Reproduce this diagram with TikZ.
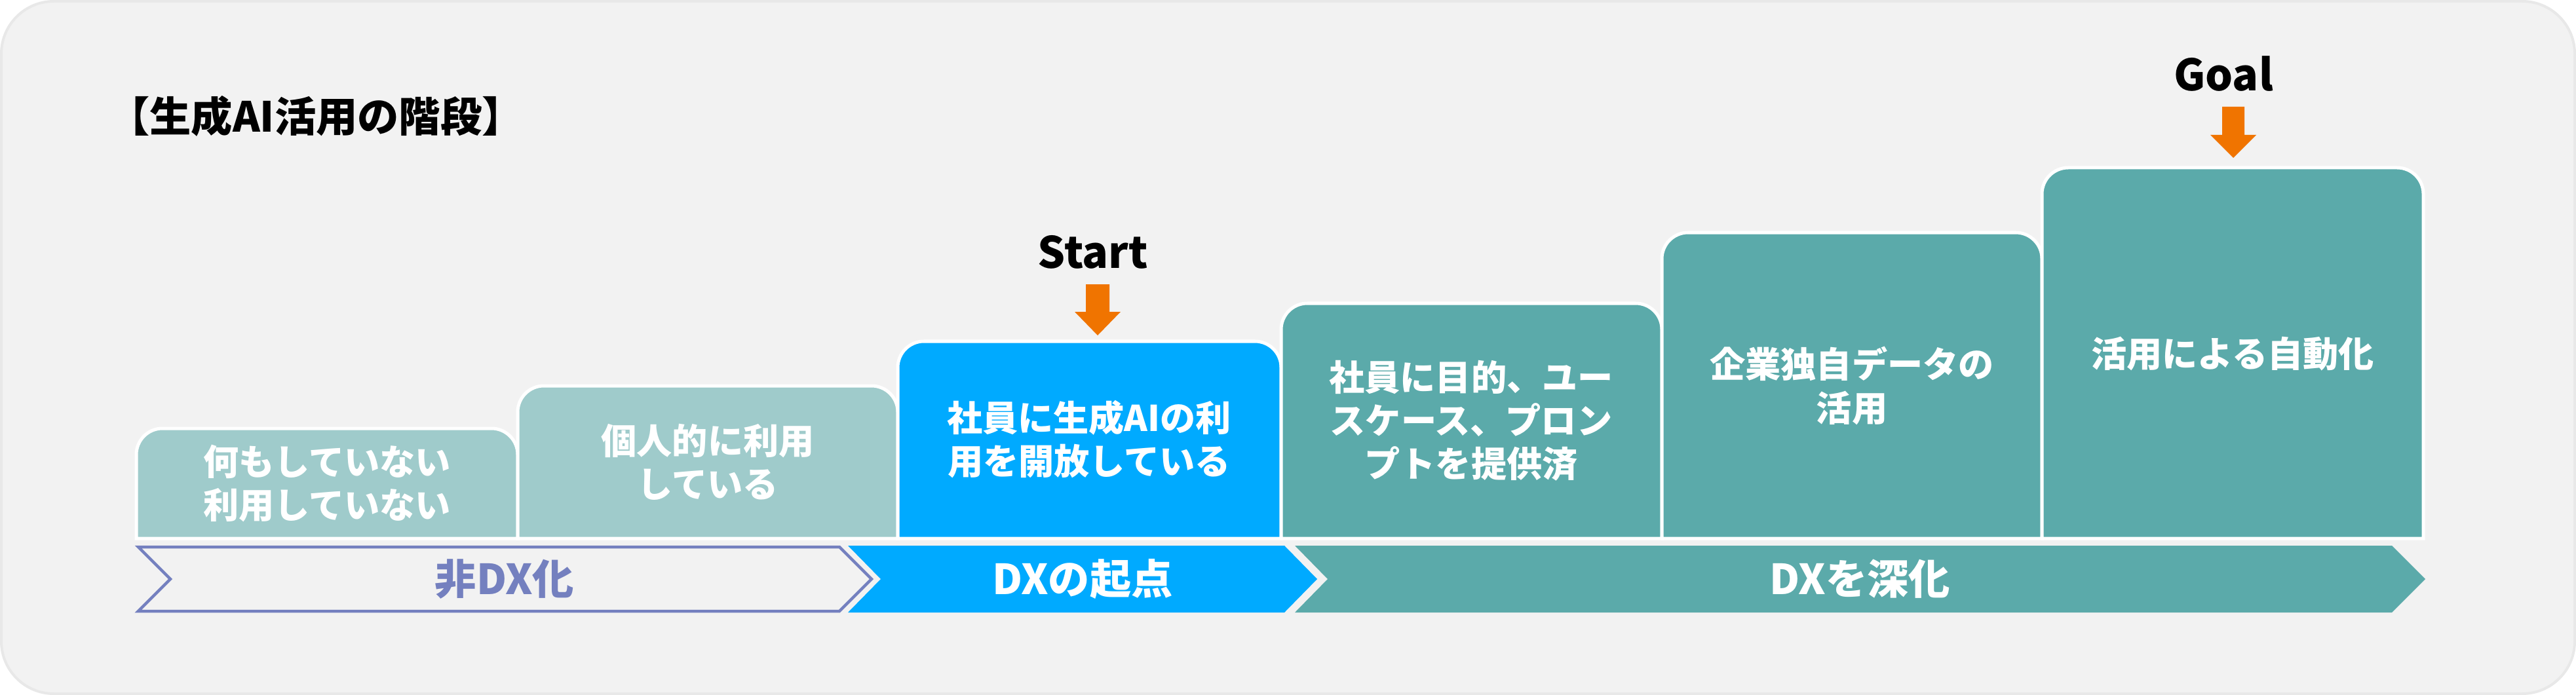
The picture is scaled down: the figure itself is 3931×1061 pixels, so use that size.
\documentclass[tikz,border=0pt]{standalone}
\usepackage{fontspec}
\setmainfont{Noto Sans CJK JP}
\usepackage{tikz}
\usetikzlibrary{positioning, calc}

\definecolor{panelbg}{HTML}{F2F2F2}
\definecolor{panelrim}{HTML}{E8E8E8}
\definecolor{lightteal}{HTML}{9FCBCB}
\definecolor{dxblue}{HTML}{00AAFF}
\definecolor{dxteal}{HTML}{5BAAAA}
\definecolor{nondx}{HTML}{7480BF}
\definecolor{markorange}{HTML}{F07400}

\tikzset{
  stepbox/.style={draw=white, line width=0.05cm},
  steptext/.style={text=white, align=center, font=\bfseries\fontsize{15.4}{18.8}\selectfont},
  phasetext/.style={font=\bfseries\fontsize{18}{21}\selectfont},
  marktext/.style={font=\bfseries\fontsize{18.8}{22}\selectfont},
  marker/.style={fill=markorange},
}

\begin{document}
\begin{tikzpicture}[x=0.01cm, y=-0.01cm]

    % --- Panel ---
    \useasboundingbox (0,0) rectangle (3931,1061);
    \draw[draw=panelrim, fill=panelbg, line width=0.04cm, rounded corners=0.8cm] (2,2) rectangle (3929,1059);

    % title
    \node[font=\bfseries\fontsize{18}{21}\selectfont] (title) at (482,177) {【生成AI活用の階段】};

    % --- Steps ---
    % step 1
    \filldraw[stepbox, fill=lightteal] (208,822) [rounded corners=0.4cm] -- (208,654) -- (790,654) [sharp corners] -- (790,822) -- cycle;
    \node[steptext] (s1) at (499,738) {何もしていない\\利用していない};

    % step 2
    \filldraw[stepbox, fill=lightteal] (790,822) [rounded corners=0.4cm] -- (790,589) -- (1370,589) [sharp corners] -- (1370,822) -- cycle;
    \node[steptext] (s2) at (1080,705) {個人的に利用\\している};

    % step 3 (start)
    \filldraw[stepbox, fill=dxblue] (1370,822) [rounded corners=0.4cm] -- (1370,521) -- (1955,521) [sharp corners] -- (1955,822) -- cycle;
    \node[steptext] (s3) at (1662,671) {社員に生成AIの利\\用を開放している};

    % step 4
    \filldraw[stepbox, fill=dxteal] (1955,822) [rounded corners=0.4cm] -- (1955,463) -- (2536,463) [sharp corners] -- (2536,822) -- cycle;
    \node[steptext] (s4) at (2245,642) {社員に目的、ユー\\スケース、プロン\\プトを提供済};

    % step 5
    \filldraw[stepbox, fill=dxteal] (2536,822) [rounded corners=0.4cm] -- (2536,355) -- (3116,355) [sharp corners] -- (3116,822) -- cycle;
    \node[steptext] (s5) at (2826,589) {企業独自データの\\活用};

    % step 6 (goal)
    \filldraw[stepbox, fill=dxteal] (3116,822) [rounded corners=0.4cm] -- (3116,256) -- (3698,256) [sharp corners] -- (3698,822) -- cycle;
    \node[steptext] (s6) at (3407,540) {活用による自動化};

    % --- Phases ---
    % non DX
    \draw[draw=nondx, fill=panelbg, line width=0.045cm, miter limit=4] (211,835) -- (1281,835) -- (1330,884) -- (1281,933) -- (211,933) -- (260,884) -- cycle;
    \node[phasetext, text=nondx] (p1) at (770,884) {非DX化};

    % DX start
    \fill[dxblue] (1294,833) -- (1960,833) -- (2010,884) -- (1960,935) -- (1294,935) -- (1344,884) -- cycle;
    \node[phasetext, text=white] (p2) at (1652,884) {DXの起点};

    % DX deeper
    \fill[dxteal] (1976,833) -- (3650,833) -- (3701,884) -- (3650,935) -- (1976,935) -- (2026,884) -- cycle;
    \node[phasetext, text=white] (p3) at (2838,884) {DXを深化};

    % --- Markers ---
    \node[marktext] (start) at (1668,385) {Start};
    \coordinate (starttip) at (1675,512);
    \fill[marker] (starttip) -- ++(35,-36) -- ++(-17,0) -- ++(0,-42) -- ++(-36,0) -- ++(0,42) -- ++(-17,0) -- cycle;

    \node[marktext] (goal) at (3393,113) {Goal};
    \coordinate (goaltip) at (3408,241);
    \fill[marker] (goaltip) -- ++(35,-35) -- ++(-18,0) -- ++(0,-43) -- ++(-34,0) -- ++(0,43) -- ++(-18,0) -- cycle;

\end{tikzpicture}
\end{document}
